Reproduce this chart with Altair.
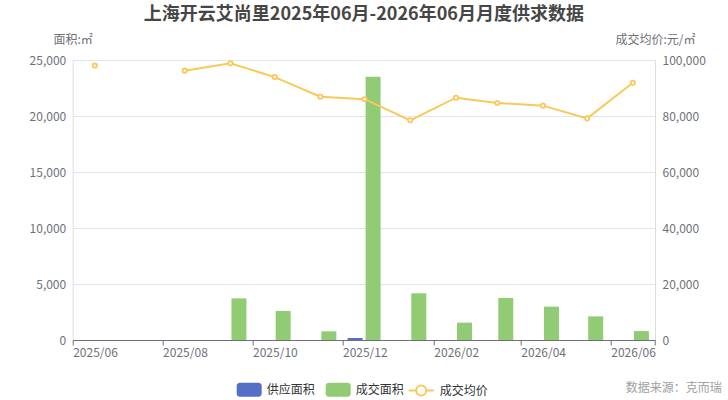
import altair as alt
import pandas as pd

months = ["2025-06", "2025-07", "2025-08", "2025-09", "2025-10", "2025-11", "2025-12",
          "2026-01", "2026-02", "2026-03", "2026-04", "2026-05", "2026-06"]
supply_area = [0, 0, 0, 0, 0, 0, 180, 0, 0, 0, 0, 0, 0]
deal_area = [0, 0, 0, 3720, 2590, 775, 23500, 4170, 1550, 3750, 2980, 2110, 800]
avg_price = [98000, None, 96200, 98800, 93900, 86900, 86000, 78450, 86550, 84650, 83700, 79150, 91900]
series_names = ["供应面积", "成交面积", "成交均价"]
left_ticks = [0, 5000, 10000, 15000, 20000, 25000]
right_ticks = [0, 20000, 40000, 60000, 80000, 100000]
tick_months = [(2025, 6), (2025, 8), (2025, 10), (2025, 12), (2026, 2), (2026, 4), (2026, 6), (2026, 7)]

FONT = "Noto Sans CJK SC"
AXC = "#6e7079"

dates = [m + "-16" for m in months]
bars = pd.DataFrame({
    "date": dates * 2,
    "series": [series_names[0]] * len(months) + [series_names[1]] * len(months),
    "area": supply_area + deal_area,
})
price_df = pd.DataFrame({"date": dates, "price": avg_price})
price_df["seg"] = price_df["price"].isna().cumsum()
price_df = price_df.dropna().copy()
price_df["series"] = series_names[2]

x_enc = alt.X(
    "date:T",
    scale=alt.Scale(type="utc", padding=0,
                    domain=[alt.DateTime(year=2025, month=6, date=1, utc=True),
                            alt.DateTime(year=2026, month=7, date=1, utc=True)]),
    axis=alt.Axis(
        values=[alt.DateTime(year=y, month=m, date=1, utc=True) for y, m in tick_months],
        labelExpr="utcFormat(datum.value, '%Y/%m') == '2026/07' ? '' : utcFormat(datum.value, '%Y/%m')",
        labelAlign="left", labelColor=AXC, labelFontSize=12, labelFont=FONT, labelPadding=2,
        domainColor=AXC, tickColor=AXC, tickSize=5, grid=False, title=None, labelOverlap=False,
        labelFlush=False,
    ),
)

y_left = alt.Y(
    "area:Q",
    scale=alt.Scale(domain=[0, 25000], nice=False),
    axis=alt.Axis(values=left_ticks, format=",.0f", domain=False, ticks=False, labelPadding=7,
                  labelColor=AXC, labelFontSize=12, labelFont=FONT, grid=True, gridColor="#e0e6f1",
                  title="面积:㎡", titleAngle=0, titleX=0, titleY=-21, titleAlign="center",
                  titleBaseline="middle", titleFontWeight="normal", titleColor=AXC,
                  titleFontSize=12, titleFont=FONT, orient="left"),
)

rect_path = ("M-0.76,-0.56H0.76A0.24,0.24 0 0 1 1,-0.32V0.32A0.24,0.24 0 0 1 0.76,0.56"
             "H-0.76A0.24,0.24 0 0 1 -1,0.32V-0.32A0.24,0.24 0 0 1 -0.76,-0.56Z")
line_path = "M-1,0H-0.4M0.4,0H1M0.4,0A0.4,0.4 0 1 1 -0.4,0A0.4,0.4 0 1 1 0.4,0Z"

color_enc = alt.Color(
    "series:N",
    scale=alt.Scale(domain=series_names[:2], range=["#5470c6", "#91cc75"]),
    legend=alt.Legend(title=None, orient="none", legendX=164, legendY=317, direction="horizontal",
                      symbolType=rect_path, symbolSize=625, symbolStrokeWidth=0, labelOffset=5,
                      columnPadding=10, labelFontSize=12, labelColor="#333333", labelFont=FONT,
                      padding=0),
)

blue = alt.Chart(bars).transform_filter(alt.datum.series == series_names[0]).mark_bar(
    size=15, xOffset=-9.5).encode(x=x_enc, y=y_left, color=color_enc)
green = alt.Chart(bars).transform_filter(alt.datum.series == series_names[1]).mark_bar(
    size=15, xOffset=8.5).encode(x=x_enc, y=y_left, color=color_enc)

y_right = alt.Y(
    "price:Q",
    scale=alt.Scale(domain=[0, 100000], nice=False),
    axis=alt.Axis(values=right_ticks, format=",.0f", domain=False, ticks=False, labelPadding=7,
                  labelColor=AXC, labelFontSize=12, labelFont=FONT, grid=False,
                  title="成交均价:元/㎡", titleAngle=0, titleX=0, titleY=-21, titleAlign="center",
                  titleBaseline="middle", titleFontWeight="normal", titleColor=AXC,
                  titleFontSize=12, titleFont=FONT, orient="right"),
)

line = alt.Chart(price_df).mark_line(strokeWidth=2).encode(
    x=x_enc, y=y_right, detail="seg:N",
    stroke=alt.Stroke("series:N", scale=alt.Scale(domain=[series_names[2]], range=["#fac858"]),
                      legend=alt.Legend(title=None, orient="none", legendX=335, legendY=317,
                                        direction="horizontal", symbolType=line_path,
                                        symbolSize=625, symbolStrokeWidth=2,
                                        symbolFillColor="white", labelOffset=5,
                                        labelFontSize=12, labelColor="#333333",
                                        labelFont=FONT, padding=0)),
)
points = alt.Chart(price_df).mark_point(shape="circle", fill="white", stroke="#fac858",
                                        strokeWidth=1.8, size=18, opacity=1).encode(
    x=x_enc, y=y_right)

source = alt.Chart(pd.DataFrame({"t": ["数据来源：克而瑞"]})).mark_text(
    align="right", baseline="middle", fontSize=12, color="#a0a0a0", font=FONT).encode(
    x=alt.value(649), y=alt.value(328), text="t:N")

chart = alt.layer(
    alt.layer(blue, green),
    alt.layer(line, points),
    source,
).resolve_scale(y="independent").properties(
    width=582.3, height=280,
    autosize="none",
    padding={"left": 72.7, "top": 60, "right": 73, "bottom": 60},
    title=alt.TitleParams("上海开云艾尚里2025年06月-2026年06月月度供求数据", fontSize=18,
                          fontWeight="bold", color="#464646", font=FONT, anchor="middle", dy=-5),
).configure_view(stroke=None).configure(background="white")

chart.save("out.html", embed_options={"renderer": "svg", "actions": False})
